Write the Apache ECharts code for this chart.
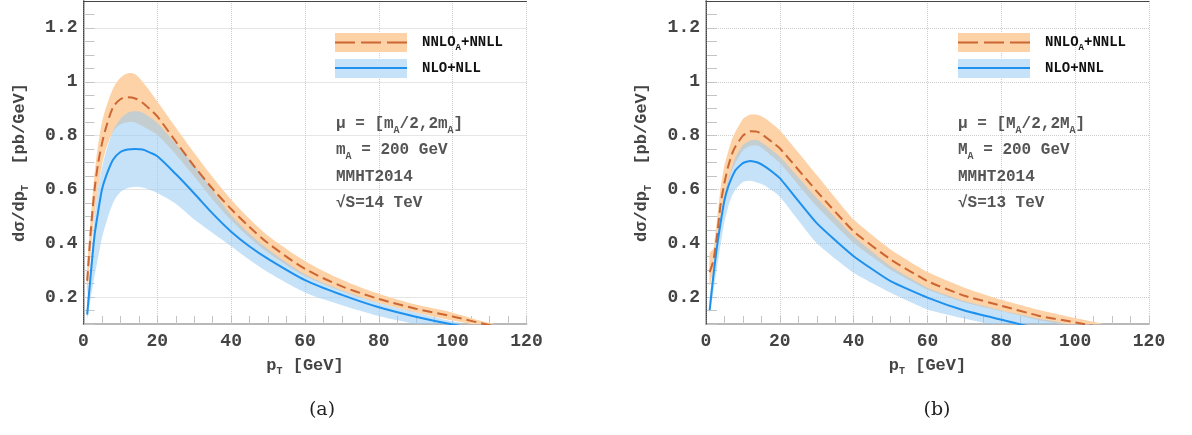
<!DOCTYPE html>
<html><head><meta charset="utf-8">
<script src="https://cdn.jsdelivr.net/npm/echarts@6/dist/echarts.min.js"></script>
<style>html,body{margin:0;padding:0;background:#fff}#c{width:1192px;height:435px}</style>
</head><body><div id="c"></div>
<script>
// ---------- data ----------
const ptA = [1,2,3,4,5,6,8,10,12,14,16,18,20,25,30,35,40,45,50,60,70,80,90,100,110,120];
const aNnloC = [0.26,0.45,0.60,0.70,0.77,0.825,0.905,0.935,0.942,0.938,0.922,0.898,0.871,0.778,0.686,0.602,0.527,0.46,0.40,0.305,0.24,0.193,0.157,0.128,0.096,0.075];
const aNnloU = [0.31,0.50,0.66,0.77,0.85,0.90,0.975,1.015,1.032,1.028,1.0,0.965,0.927,0.83,0.735,0.645,0.562,0.49,0.428,0.334,0.264,0.212,0.172,0.142,0.104,0.085];
const aNnloL = [0.205,0.37,0.51,0.61,0.69,0.745,0.815,0.842,0.85,0.849,0.835,0.82,0.803,0.73,0.648,0.562,0.485,0.42,0.365,0.278,0.222,0.178,0.143,0.113,0.088,0.07];
const aNloC  = [0.135,0.29,0.43,0.52,0.60,0.645,0.71,0.739,0.748,0.75,0.748,0.737,0.723,0.657,0.585,0.51,0.443,0.388,0.342,0.263,0.208,0.162,0.127,0.098,0.075,0.058];
const aNloU  = [0.17,0.34,0.50,0.61,0.68,0.735,0.818,0.862,0.885,0.89,0.885,0.868,0.847,0.77,0.69,0.595,0.505,0.435,0.378,0.285,0.225,0.178,0.143,0.11,0.085,0.067];
const aNloL  = [0.12,0.20,0.28,0.35,0.42,0.47,0.55,0.59,0.605,0.61,0.607,0.598,0.587,0.547,0.488,0.438,0.389,0.338,0.292,0.217,0.17,0.13,0.10,0.077,0.06,0.045];

const ptB = [1,2,3,4,5,6,7,8,10,12,14,16,18,20,30,40,50,60,70,80,90,100,110,120];
const bNnloC = [0.293,0.335,0.43,0.55,0.625,0.685,0.73,0.76,0.80,0.816,0.814,0.796,0.775,0.753,0.593,0.444,0.34,0.259,0.205,0.168,0.131,0.106,0.08,0.06];
const bNnloU = [0.364,0.38,0.49,0.61,0.69,0.74,0.785,0.815,0.862,0.878,0.877,0.864,0.843,0.82,0.654,0.488,0.377,0.293,0.235,0.19,0.153,0.122,0.094,0.072];
const bNnloL = [0.24,0.30,0.39,0.49,0.565,0.625,0.67,0.70,0.745,0.762,0.763,0.745,0.722,0.698,0.537,0.401,0.302,0.228,0.18,0.148,0.115,0.09,0.068,0.05];
const bNloC  = [0.152,0.28,0.39,0.48,0.56,0.61,0.645,0.672,0.698,0.706,0.70,0.685,0.665,0.642,0.475,0.352,0.259,0.198,0.15,0.116,0.083,0.06,0.045,0.035];
const bNloU  = [0.20,0.30,0.41,0.50,0.58,0.635,0.68,0.72,0.765,0.782,0.783,0.766,0.745,0.722,0.568,0.426,0.315,0.235,0.185,0.15,0.12,0.095,0.072,0.055];
const bNloL  = [0.14,0.22,0.31,0.40,0.48,0.535,0.575,0.60,0.628,0.632,0.625,0.615,0.595,0.574,0.40,0.29,0.216,0.154,0.12,0.09,0.065,0.05,0.04,0.03];

const yTickLabels = ['0.2','0.4','0.6','0.8','1','1.2'];
const legendA = ['{n|NNLO}{s|A}{n|+NNLL}', '{n|NLO+NLL}'];
const legendB = ['{n|NNLO}{s|A}{n|+NNLL}', '{n|NLO+NNL}'];
const infoA = ['{n|μ = [m}{s|A}{n|/2,2m}{s|A}{n|]}', '{n|m}{s|A}{n| = 200 GeV}', '{n|MMHT2014}', '{n|√S=14 TeV}'];
const infoB = ['{n|μ = [M}{s|A}{n|/2,2M}{s|A}{n|]}', '{n|M}{s|A}{n| = 200 GeV}', '{n|MMHT2014}', '{n|√S=13 TeV}'];
const captions = ['(a)', '(b)'];
const xName = '{n|p}{s|T}{n| [GeV]}';
const yName = '{n|dσ/dp}{s|T}{n|  [pb/GeV]}';

// ---------- style ----------
const MONO = "'Liberation Mono','DejaVu Sans Mono',monospace";
const ORANGE_BAND = '#fdd2a7';
const BLUE_BAND = 'rgba(150,202,244,0.55)';
const BLUE_BAND_SOLID = '#c5e2f9';
const ORANGE_LINE = '#cc6633';
const BLUE_LINE = '#1e90ee';

const grids = [
  {left: 83.5, top: 1, width: 443, height: 323},
  {left: 706, top: 1, width: 443, height: 323}
];

function nameRich() {
  return {
    n: {fontFamily: MONO, fontWeight: 'bold', fontSize: 17, color: '#444', lineHeight: 12},
    s: {fontFamily: MONO, fontWeight: 'bold', fontSize: 10, color: '#444', lineHeight: 12, padding: [12,0,0,0]}
  };
}
function xAxes(gi) {
  return [{
    gridIndex: gi, type: 'value', min: 0, max: 120, interval: 20,
    name: xName, nameLocation: 'middle', nameGap: 34,
    nameTextStyle: {rich: nameRich()},
    axisLine: {lineStyle: {color: '#b8b8b8', width: 2}},
    axisTick: {inside: true, length: 8, lineStyle: {color: '#c4c4c4'}},
    minorTick: {show: true, splitNumber: 4, length: 8, lineStyle: {color: '#c4c4c4'}},
    axisLabel: {fontFamily: MONO, fontWeight: 'bold', fontSize: 18, color: '#444', margin: 8, showMaxLabel: true, showMinLabel: true},
    splitLine: {show: true, lineStyle: {color: '#cdcdcd', type: 'dotted', width: 1}}
  }, {
    gridIndex: gi, type: 'value', min: 0, max: 120, position: 'top',
    axisLine: {show: true, lineStyle: {color: '#444', width: 1}},
    axisTick: {show: false}, axisLabel: {show: false}, splitLine: {show: false}, z: 10
  }];
}
function yAxes(gi) {
  return [{
    gridIndex: gi, type: 'value', min: 0.1, max: 1.3, interval: 0.1,
    name: yName, nameLocation: 'middle', nameGap: 58, nameRotate: 90,
    nameTextStyle: {rich: nameRich()},
    axisLine: {show: true, lineStyle: {color: '#b8b8b8', width: 2}},
    axisTick: {show: true, inside: true, length: 11, lineStyle: {color: '#c4c4c4'}},
    minorTick: {show: true, splitNumber: 2, length: 11, lineStyle: {color: '#c4c4c4'}},
    axisLabel: {
      fontFamily: MONO, fontWeight: 'bold', fontSize: 18, color: '#444', margin: 6,
      formatter: v => {
        const k = Math.round(v * 10);
        if (k % 2 !== 0) return '';
        const idx = k / 2 - 1;
        return (idx >= 0 && idx < yTickLabels.length) ? yTickLabels[idx] : '';
      }
    },
    splitLine: {show: true, lineStyle: {color: ['rgba(0,0,0,0)', '#cdcdcd'], type: 'dotted', width: 1}}
  }, {
    gridIndex: gi, type: 'value', min: 0.1, max: 1.3, position: 'right',
    axisLine: {show: true, lineStyle: {color: '#444', width: 1, type: 'dotted'}},
    axisTick: {show: false}, axisLabel: {show: false}, splitLine: {show: false}, z: 10
  }];
}

// band drawn as one polygon through the axes' scales (api.coord)
function band(xi, yi, xs, lo, hi, color, smooth) {
  return {
    type: 'custom', coordinateSystem: 'cartesian2d', xAxisIndex: xi, yAxisIndex: yi,
    clip: true, silent: true,
    data: xs.map((x, i) => [x, lo[i], hi[i]]),
    encode: {x: 0, y: [1, 2]},
    renderItem: (params, api) => {
      if (params.dataIndex !== 0) return null;
      const pts = [];
      for (let i = 0; i < xs.length; i++) pts.push(api.coord([xs[i], hi[i]]));
      for (let i = xs.length - 1; i >= 0; i--) pts.push(api.coord([xs[i], lo[i]]));
      return {type: 'polygon', shape: {points: pts, smooth: smooth}, style: {fill: color}};
    }
  };
}
function curve(xi, yi, xs, ys, color, dashed, smooth) {
  return {
    type: 'line', xAxisIndex: xi, yAxisIndex: yi, symbol: 'none', smooth: smooth,
    data: xs.map((x, i) => [x, ys[i]]),
    lineStyle: {color: color, width: 2, type: dashed ? [10, 5] : 'solid'}, silent: true
  };
}

function panel(gi, xs, nC, nU, nL, lC, lU, lL, smooth) {
  const xi = gi * 2, yi = gi * 2;
  return [
    band(xi, yi, xs, nL, nU, ORANGE_BAND, smooth),
    curve(xi, yi, xs, nC, ORANGE_LINE, true, smooth),
    band(xi, yi, xs, lL, lU, BLUE_BAND, smooth),
    curve(xi, yi, xs, lC, BLUE_LINE, false, smooth)
  ];
}

function richText(x, y, text, size, color, subSize, subPad) {
  return {
    type: 'text', x: x, y: y, silent: true, z: 100,
    style: {
      text: text, verticalAlign: 'middle', align: 'left',
      rich: {
        n: {fontFamily: MONO, fontWeight: 'bold', fontSize: size, fill: color, lineHeight: 12},
        s: {fontFamily: MONO, fontWeight: 'bold', fontSize: subSize, fill: color, lineHeight: 10, padding: [subPad, 0, 0, 0]}
      }
    }
  };
}

function legendGraphics(rx, tx, labels) {
  return [
    {type: 'rect', z: 100, shape: {x: rx, y: 33, width: 72, height: 19}, style: {fill: ORANGE_BAND}, silent: true},
    {type: 'line', z: 101, shape: {x1: rx, y1: 42.5, x2: rx + 72, y2: 42.5}, style: {stroke: ORANGE_LINE, lineWidth: 2, lineDash: [20, 6]}, silent: true},
    {type: 'rect', z: 100, shape: {x: rx, y: 59, width: 72, height: 19}, style: {fill: BLUE_BAND_SOLID}, silent: true},
    {type: 'line', z: 101, shape: {x1: rx, y1: 68, x2: rx + 72, y2: 68}, style: {stroke: BLUE_LINE, lineWidth: 2}, silent: true},
    richText(tx, 42.5, labels[0], 14, '#111', 9, 10),
    richText(tx, 68, labels[1], 14, '#111', 9, 10)
  ];
}
function infoGraphics(x, lines) {
  const ys = [124, 150, 177, 203];
  return lines.map((t, i) => richText(x, ys[i], t, 16, '#555', 10, 12));
}

const chart = echarts.init(document.getElementById('c'), null, {renderer: 'canvas'});
chart.setOption({
  animation: false,
  backgroundColor: '#fff',
  grid: grids,
  xAxis: [].concat(xAxes(0), xAxes(1)),
  yAxis: [].concat(yAxes(0), yAxes(1)),
  series: [].concat(
    panel(0, ptA, aNnloC, aNnloU, aNnloL, aNloC, aNloU, aNloL, 0.3),
    panel(1, ptB, bNnloC, bNnloU, bNnloL, bNloC, bNloU, bNloL, 0.15)
  ),
  graphic: [].concat(
    legendGraphics(335, 422, legendA),
    legendGraphics(958, 1045, legendB),
    infoGraphics(336, infoA),
    infoGraphics(958, infoB),
    [
      {type: 'text', x: 322, y: 410, z: 100, silent: true, style: {text: captions[0], align: 'center', verticalAlign: 'middle', fontFamily: "'DejaVu Serif', serif", fontSize: 19, fill: '#222'}},
      {type: 'text', x: 937, y: 410, z: 100, silent: true, style: {text: captions[1], align: 'center', verticalAlign: 'middle', fontFamily: "'DejaVu Serif', serif", fontSize: 19, fill: '#222'}}
    ]
  )
});
</script>
</body></html>
